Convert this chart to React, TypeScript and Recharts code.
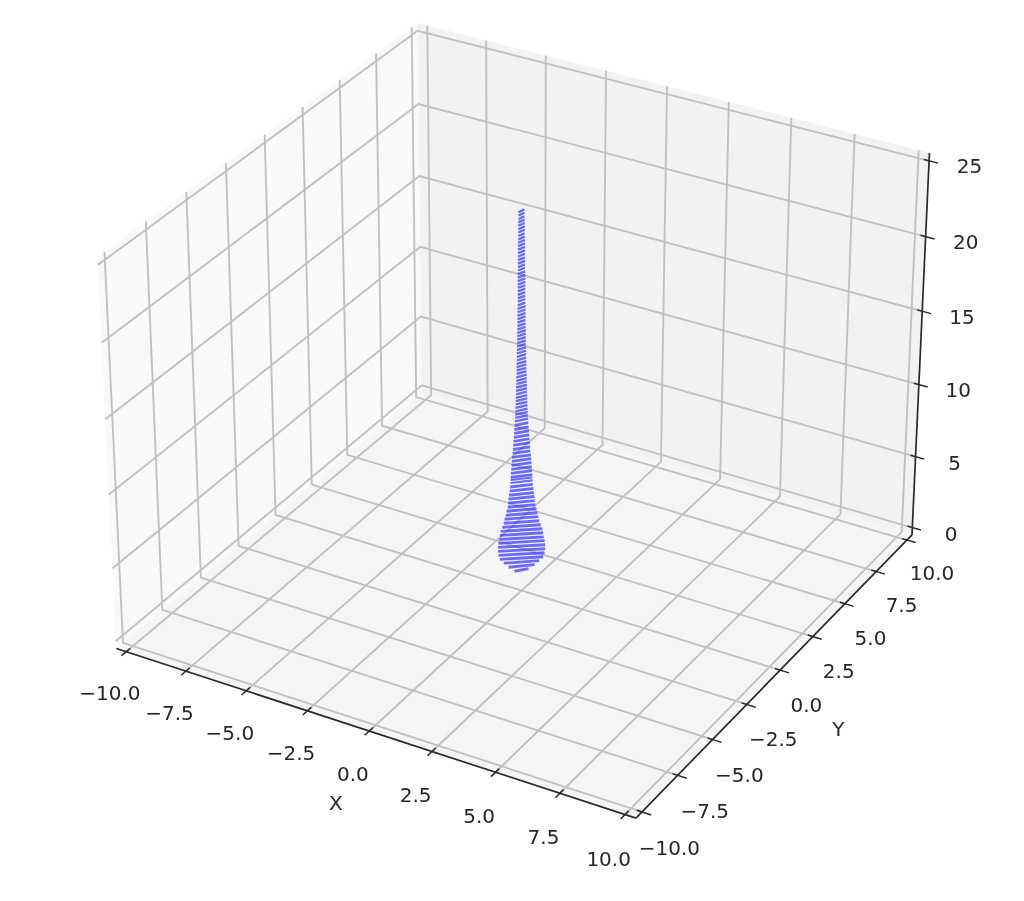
import React from 'react';
import { ScatterChart, Scatter, XAxis, YAxis, Polygon } from 'recharts';

const WIDTH = 1024;
const HEIGHT = 901;

// tick values and labels
const xTicks = [-10, -7.5, -5, -2.5, 0, 2.5, 5, 7.5, 10];
const xTickLabels = ['−10.0', '−7.5', '−5.0', '−2.5', '0.0', '2.5', '5.0', '7.5', '10.0'];
const yTicks = [-10, -7.5, -5, -2.5, 0, 2.5, 5, 7.5, 10];
const yTickLabels = ['−10.0', '−7.5', '−5.0', '−2.5', '0.0', '2.5', '5.0', '7.5', '10.0'];
const zTicks = [0, 5, 10, 15, 20, 25];
const zTickLabels = ['0', '5', '10', '15', '20', '25'];

// funnel rows, bottom to top: height of each row and its half width
const rowZ = [
  0.93, 1.21, 1.49, 1.76, 2.04, 2.32, 2.6, 2.88, 3.15, 3.43, 3.71, 3.99,
  4.27, 4.55, 4.82, 5.1, 5.38, 5.66, 5.94, 6.21, 6.49, 6.77, 7.05, 7.25,
  7.44, 7.71, 7.98, 8.26, 8.53, 8.8, 9.07, 9.34, 9.62, 9.89, 10.16, 10.43, 10.7, 10.98, 11.25,
  11.48, 11.7, 11.93, 12.16, 12.39, 12.62, 12.84, 13.07, 13.3, 13.53, 13.76, 13.98, 14.21, 14.44, 14.67,
  14.9, 15.12, 15.35, 15.58, 15.81, 16.03, 16.26, 16.49, 16.72, 16.95, 17.17, 17.4, 17.63, 17.86, 18.09,
  18.31, 18.54, 18.77, 19.0, 19.23, 19.45, 19.68, 19.91, 20.14, 20.36, 20.59, 20.82, 21.05, 21.28, 21.5,
  21.73, 21.96, 22.19, 22.41, 22.64, 22.87, 23.09, 23.31, 23.53, 23.75, 23.97, 24.19, 24.41, 24.63, 24.85,
  25.07,
];
const rowReach = [
  0.25, 0.46, 0.63, 0.77, 0.82, 0.84, 0.84, 0.82, 0.79, 0.77, 0.74, 0.68,
  0.63, 0.6, 0.56, 0.53, 0.49, 0.47, 0.46, 0.44, 0.42, 0.4, 0.39, 0.38,
  0.38, 0.37, 0.36, 0.35, 0.34, 0.33, 0.31, 0.3, 0.29, 0.28, 0.27, 0.26, 0.25, 0.24, 0.23,
  0.22, 0.22, 0.21, 0.21, 0.2, 0.2, 0.2, 0.19, 0.19, 0.19, 0.18, 0.18, 0.18, 0.17, 0.17,
  0.17, 0.17, 0.16, 0.16, 0.16, 0.16, 0.15, 0.15, 0.15, 0.15, 0.15, 0.14, 0.14, 0.14, 0.14,
  0.14, 0.14, 0.14, 0.13, 0.13, 0.13, 0.13, 0.13, 0.13, 0.13, 0.13, 0.13, 0.13, 0.12, 0.12,
  0.12, 0.12, 0.12, 0.12, 0.12, 0.12, 0.12, 0.11, 0.11, 0.11, 0.11, 0.11, 0.11, 0.1, 0.1,
  0.1,
];

// pane limits sit 1/48 of the range outside the ticks
const xLo = -10.4167;
const xHi = 10.4167;
const yLo = -10.4167;
const yHi = 10.4167;
const zLo = -0.5208;
const zHi = 25.5208;

// same camera as a default mplot3d axes: elev 30, azim -60, dist 10, box 4:4:3
const BOX = [1.1905, 1.1905, 0.8929];
const U = [0.866025, 0.5, 0];
const V = [-0.25, 0.433013, 0.866025];
const W = [0.433013, -0.75, 0.5];
const project = (x: number, y: number, z: number) => {
  const d = [
    ((x - xLo) / (xHi - xLo) - 0.5) * BOX[0],
    ((y - yLo) / (yHi - yLo) - 0.5) * BOX[1],
    ((z - zLo) / (zHi - zLo) - 0.5) * BOX[2],
  ];
  const dot = (a: number[]) => a[0] * d[0] + a[1] * d[1] + a[2] * d[2];
  const depth = 10 - dot(W);
  return { px: dot(U) / depth, py: dot(V) / depth };
};

const PX_DOMAIN = [-0.1043, 0.1005];
const PY_DOMAIN = [-0.0999, 0.0803];

type P3 = [number, number, number];
const NoDot = () => null;

const polyline = (key: string, pts: P3[], stroke: string, strokeWidth: number) => (
  <Scatter
    key={key}
    data={pts.map((p) => project(...p))}
    dataKey="py"
    line={{ stroke, strokeWidth }}
    shape={NoDot}
    isAnimationActive={false}
  />
);

const pane = (key: string, pts: P3[], fill: string) => (
  <Scatter
    key={key}
    data={pts.map((p) => project(...p))}
    dataKey="py"
    line={(props: any) => <Polygon points={props.points} fill={fill} stroke="none" />}
    shape={NoDot}
    isAnimationActive={false}
  />
);

const textAt = (key: string, p: P3, text: string) => (
  <Scatter
    key={key}
    data={[project(...p)]}
    dataKey="py"
    shape={(props: any) => (
      <text
        x={props.cx}
        y={props.cy}
        dy="0.36em"
        textAnchor="middle"
        fontFamily="DejaVu Sans"
        fontSize={20}
        fill="#262626"
      >
        {text}
      </text>
    )}
    isAnimationActive={false}
  />
);

const GRID = '#c0c0c0';
const AXIS = '#2a2a2a';
const ROW_TILT = 0.09;

export default function App() {
  return (
    <div style={{ position: 'absolute', left: 0, top: 0, filter: 'blur(0.6px)' }}>
      <ScatterChart width={WIDTH} height={HEIGHT} margin={{ top: 0, right: 0, bottom: 0, left: 0 }}>
        <XAxis type="number" dataKey="px" domain={PX_DOMAIN} allowDataOverflow hide />
        <YAxis type="number" dataKey="py" domain={PY_DOMAIN} allowDataOverflow hide />

        {pane('paneX', [[xLo, yLo, zLo], [xLo, yHi, zLo], [xLo, yHi, zHi], [xLo, yLo, zHi]], '#f9f9f9')}
        {pane('paneY', [[xLo, yHi, zLo], [xHi, yHi, zLo], [xHi, yHi, zHi], [xLo, yHi, zHi]], '#f2f2f2')}
        {pane('paneZ', [[xLo, yLo, zLo], [xHi, yLo, zLo], [xHi, yHi, zLo], [xLo, yHi, zLo]], '#f5f5f5')}

        {xTicks.map((t) =>
          polyline(`gx${t}`, [[t, yLo, zLo], [t, yHi, zLo], [t, yHi, zHi]], GRID, 1.9),
        )}
        {yTicks.map((t) =>
          polyline(`gy${t}`, [[xHi, t, zLo], [xLo, t, zLo], [xLo, t, zHi]], GRID, 1.9),
        )}
        {zTicks.map((t) =>
          polyline(`gz${t}`, [[xLo, yLo, t], [xLo, yHi, t], [xHi, yHi, t]], GRID, 1.9),
        )}

        {polyline('axisX', [[xLo, yLo, zLo], [xHi, yLo, zLo]], AXIS, 1.7)}
        {polyline('axisY', [[xHi, yLo, zLo], [xHi, yHi, zLo]], AXIS, 1.7)}
        {polyline('axisZ', [[xHi, yHi, zLo], [xHi, yHi, zHi]], AXIS, 1.7)}

        {xTicks.map((t) =>
          polyline(`tx${t}`, [[t, yLo + 0.25, zLo], [t, yLo - 0.3, zLo]], AXIS, 1.5),
        )}
        {yTicks.map((t) =>
          polyline(`ty${t}`, [[xHi - 0.2, t, zLo], [xHi + 0.35, t, zLo]], AXIS, 1.5),
        )}
        {zTicks.map((t) =>
          polyline(`tz${t}`, [[xHi - 0.2, yHi, t], [xHi + 0.35, yHi, t]], AXIS, 1.5),
        )}

        {rowZ.map((z, i) => {
          const r = rowReach[i];
          // stroke follows the local row spacing, so the gaps stay visible along the stem
          const gap = ((rowZ[i + 1] ?? z + 0.22) - z) / 0.068;
          return polyline(
            `row${i}`,
            [
              [-r * U[0], -r * U[1], z - ROW_TILT],
              [r * U[0], r * U[1], z + ROW_TILT],
            ],
            'rgba(40,40,255,0.68)',
            gap * 0.7,
          );
        })}

        {xTicks.map((t, i) => textAt(`lx${t}`, [t, yLo - 1.1, zLo - 1.85], xTickLabels[i]))}
        {yTicks.map((t, i) => textAt(`ly${t}`, [xHi + 1.06, t, zLo - 1.8], yTickLabels[i]))}
        {zTicks.map((t, i) => textAt(`lz${t}`, [xHi + 1.55, yHi, t + 0.37], zTickLabels[i]))}

        {textAt('labelX', [0.2, -12.96, -2.85], 'X')}
        {textAt('labelY', [12.75, 0, -3.3], 'Y')}
      </ScatterChart>
    </div>
  );
}
